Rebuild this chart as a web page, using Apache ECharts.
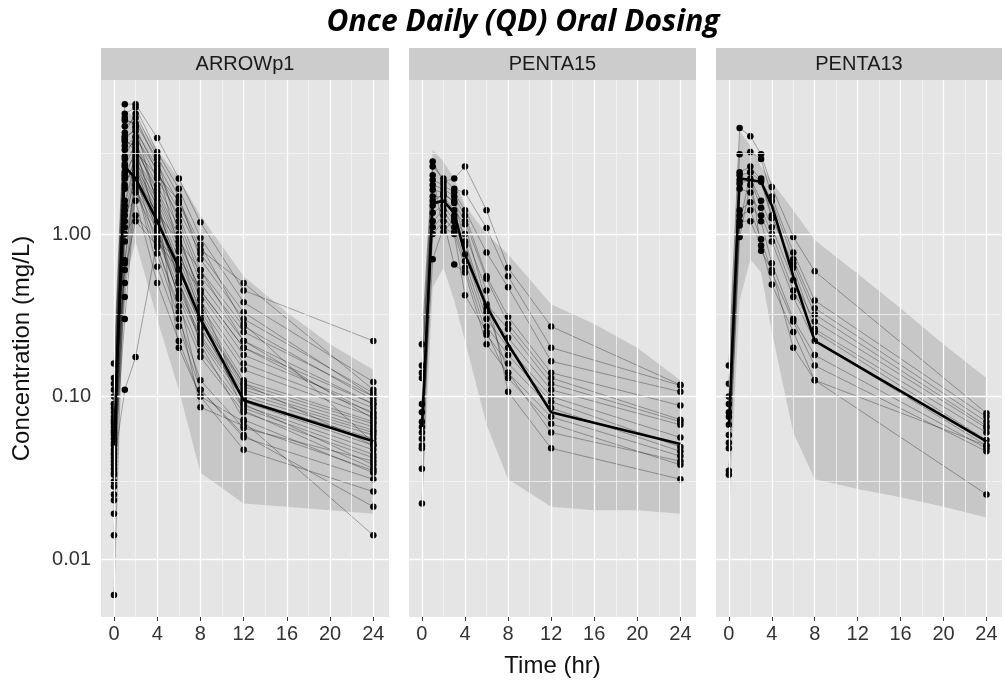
<!DOCTYPE html>
<html><head><meta charset="utf-8">
<script src="https://cdn.jsdelivr.net/npm/echarts@6/dist/echarts.min.js"></script>
<style>html,body{margin:0;padding:0;background:#fff}#c{width:1005px;height:688px}</style>
</head><body><div id="c"></div>
<script>
// ---------- data ----------
const panelNames = ['ARROWp1', 'PENTA15', 'PENTA13'];
const xTicks = [0, 4, 8, 12, 16, 20, 24];
const xMinor = [2, 6, 10, 14, 18, 22];
const yTicks = [0.01, 0.1, 1];
const yMinor = [0.0316, 0.316, 3.16];

// ARROWp1
const arrowTimes = [0, 1, 2, 4, 6, 8, 12, 24];
const arrowSubjects = [
  [0.16, 6.3, 6.3, 3.9, 2.2, 1.18, 0.45, 0.22],
  [0.13, 5.5, 6.0, 3.2, 1.9, 0.95, 0.38, 0.123],
  [0.12, 4.6, 5.2, 2.7, 1.55, 0.80, 0.50, 0.11],
  [0.09, 3.8, 4.5, 2.4, 1.4, 0.76, 0.33, 0.10],
  [0.085, 3.0, 4.0, 2.2, 1.3, 0.60, 0.27, 0.095],
  [0.08, 2.6, 3.6, 2.0, 1.1, 0.50, 0.22, 0.09],
  [0.07, 2.2, 3.3, 1.9, 0.96, 0.43, 0.18, 0.085],
  [0.065, 1.9, 3.0, 1.7, 0.85, 0.39, 0.16, 0.08],
  [0.06, 1.6, 2.8, 1.6, 0.78, 0.36, 0.146, 0.075],
  [0.058, 1.3, 2.6, 1.5, 0.70, 0.34, 0.126, 0.07],
  [0.055, 1.1, 2.5, 1.4, 0.65, 0.32, 0.12, 0.068],
  [0.05, 0.69, 2.4, 1.3, 0.60, 0.30, 0.115, 0.065],
  [0.047, 0.66, 2.2, 1.2, 0.55, 0.28, 0.11, 0.062],
  [0.045, 0.5, 2.1, 1.1, 0.50, 0.26, 0.105, 0.06],
  [0.042, 0.41, 1.9, 1.05, 0.45, 0.24, 0.10, 0.058],
  [0.04, 0.30, 1.8, 0.95, 0.42, 0.23, 0.096, 0.055],
  [0.038, 0.11, 0.175, 0.9, 0.7, 0.45, 0.2, 0.09],
  [0.036, 4.2, 5.5, 3.0, 1.7, 0.70, 0.3, 0.105],
  [0.034, 3.5, 3.9, 2.5, 1.2, 0.55, 0.25, 0.1],
  [0.03, 2.9, 3.4, 1.8, 0.9, 0.45, 0.2, 0.078],
  [0.028, 2.4, 3.1, 1.45, 0.62, 0.27, 0.093, 0.05],
  [0.025, 2.0, 2.9, 1.25, 0.52, 0.22, 0.088, 0.047],
  [0.019, 1.5, 2.7, 1.0, 0.41, 0.19, 0.085, 0.044],
  [0.014, 1.2, 2.3, 0.83, 0.36, 0.175, 0.08, 0.042],
  [0.006, 0.9, 2.0, 0.76, 0.30, 0.126, 0.064, 0.04],
  [0.1, 5.0, 4.8, 2.9, 1.0, 0.40, 0.09, 0.038],
  [0.075, 4.0, 4.3, 2.6, 0.8, 0.32, 0.082, 0.036],
  [0.068, 3.3, 3.7, 1.6, 0.5, 0.21, 0.072, 0.034],
  [0.052, 2.7, 2.0, 0.63, 0.27, 0.11, 0.056, 0.031],
  [0.044, 1.4, 1.6, 0.5, 0.22, 0.10, 0.047, 0.026],
  [0.033, 5.2, 4.6, 1.5, 0.2, 0.1, 0.07, 0.014],
  [0.023, 3.7, 3.5, 1.1, 0.4, 0.11, 0.058, 0.021],
  [0.062, 2.3, 2.2, 1.35, 0.9, 0.6, 0.22, 0.073],
  [0.11, 1.0, 1.3, 0.9, 0.6, 0.3, 0.12, 0.05],
  [0.09, 0.6, 1.2, 0.85, 0.33, 0.086, 0.066, 0.035],
  [0.072, 3.9, 3.2, 2.3, 1.6, 0.86, 0.28, 0.052]
];
const arrowMedian = [0.05, 2.6, 2.2, 1.2, 0.62, 0.30, 0.095, 0.053];
const arrowBandTimes = [0, 1, 2, 4, 6, 8, 12, 16, 20, 24];
const arrowBandLow = [0.015, 0.5, 0.9, 0.3, 0.11, 0.034, 0.022, 0.021, 0.02, 0.019];
const arrowBandHigh = [0.17, 5.8, 5.2, 3.3, 2.2, 1.3, 0.55, 0.33, 0.21, 0.146];

// PENTA15
const p15Times = [0, 1, 2, 3, 4, 6, 8, 12, 24];
const p15Subjects = [
  [0.21, 2.8, 2.1, 2.2, 2.6, 1.4, 0.62, 0.27, 0.118],
  [0.155, 2.6, 2.2, 1.9, 1.8, 1.09, 0.55, 0.2, 0.117],
  [0.14, 2.15, 2.0, 1.8, 1.4, 0.77, 0.47, 0.165, 0.107],
  [0.13, 2.0, 1.9, 1.7, 1.3, 0.55, 0.31, 0.14, 0.088],
  [0.09, 1.87, 1.8, 1.55, 1.2, 0.53, 0.28, 0.13, 0.072],
  [0.08, 1.7, 1.7, 1.4, 1.15, 0.37, 0.26, 0.12, 0.07],
  [0.07, 1.5, 1.6, 1.3, 0.85, 0.33, 0.23, 0.11, 0.067],
  [0.065, 1.35, 1.5, 1.2, 0.75, 0.3, 0.2, 0.1, 0.056],
  [0.06, 1.2, 1.4, 1.1, 0.68, 0.27, 0.18, 0.093, 0.049],
  [0.055, 1.1, 1.3, 1.03, 0.62, 0.24, 0.16, 0.085, 0.046],
  [0.05, 1.0, 1.2, 0.65, 0.58, 0.21, 0.14, 0.075, 0.043],
  [0.048, 0.7, 1.1, 1.0, 0.42, 0.25, 0.13, 0.068, 0.038],
  [0.036, 2.3, 1.03, 1.25, 1.0, 0.45, 0.107, 0.048, 0.031],
  [0.022, 1.6, 1.75, 1.6, 0.9, 0.35, 0.14, 0.06, 0.04]
];
const p15Median = [0.065, 1.55, 1.6, 1.35, 0.75, 0.36, 0.21, 0.08, 0.051];
const p15BandTimes = [0, 1, 2, 3, 4, 6, 8, 12, 16, 20, 24];
const p15BandLow = [0.019, 0.47, 0.62, 0.39, 0.22, 0.067, 0.031, 0.021, 0.02, 0.02, 0.019];
const p15BandHigh = [0.25, 3.3, 2.8, 2.2, 1.5, 1.0, 0.75, 0.37, 0.28, 0.2, 0.126];

// PENTA13
const p13Times = [0, 1, 2, 3, 4, 6, 8, 24];
const p13Subjects = [
  [0.155, 4.5, 4.0, 3.1, 1.95, 0.96, 0.59, 0.079],
  [0.12, 3.1, 3.2, 2.9, 1.7, 0.77, 0.39, 0.075],
  [0.1, 2.4, 2.6, 2.15, 1.6, 0.7, 0.35, 0.07],
  [0.09, 2.3, 2.4, 2.1, 1.25, 0.66, 0.32, 0.066],
  [0.08, 2.15, 2.2, 1.6, 1.1, 0.52, 0.29, 0.064],
  [0.075, 2.05, 2.15, 1.45, 1.0, 0.45, 0.25, 0.054],
  [0.067, 1.9, 1.8, 1.3, 0.9, 0.41, 0.22, 0.05],
  [0.058, 1.4, 1.57, 1.2, 0.66, 0.3, 0.18, 0.048],
  [0.052, 1.3, 1.4, 0.93, 0.58, 0.29, 0.155, 0.046],
  [0.048, 1.2, 1.2, 0.85, 0.49, 0.25, 0.126, 0.025],
  [0.035, 1.13, 2.4, 0.79, 0.6, 0.2, 0.126, 0.05],
  [0.033, 0.96, 2.0, 2.2, 1.3, 0.62, 0.26, 0.06]
];
const p13Median = [0.065, 2.2, 2.15, 2.1, 1.5, 0.55, 0.22, 0.053];
const p13BandTimes = [0, 1, 2, 3, 4, 6, 8, 12, 16, 20, 24];
const p13BandLow = [0.018, 0.39, 0.7, 0.58, 0.25, 0.06, 0.031, 0.027, 0.024, 0.021, 0.018];
const p13BandHigh = [0.2, 4.3, 3.5, 2.6, 2.1, 1.4, 0.92, 0.57, 0.35, 0.21, 0.13];

// ---------- chart ----------
const panels = [
  {times: arrowTimes, subjects: arrowSubjects, median: arrowMedian, bt: arrowBandTimes, lo: arrowBandLow, hi: arrowBandHigh},
  {times: p15Times, subjects: p15Subjects, median: p15Median, bt: p15BandTimes, lo: p15BandLow, hi: p15BandHigh},
  {times: p13Times, subjects: p13Subjects, median: p13Median, bt: p13BandTimes, lo: p13BandLow, hi: p13BandHigh}
];
const gridBoxes = [
  {left: 101, width: 288},
  {left: 409, width: 287},
  {left: 716, width: 286}
];
const TOP = 80, HEIGHT = 537;
const FONT = 'Liberation Sans, Arial, sans-serif';

const grids = [], xAxes = [], yAxes = [], series = [], graphics = [];
panels.forEach((p, i) => {
  grids.push({left: gridBoxes[i].left, width: gridBoxes[i].width, top: TOP, height: HEIGHT,
    show: true, backgroundColor: '#e5e5e5', borderWidth: 0, containLabel: false});
  xAxes.push({
    type: 'value', gridIndex: i, min: -1.2, max: 25.45,
    axisLine: {show: false},
    axisTick: {show: true, customValues: xTicks, length: 4, lineStyle: {color: '#333', width: 1}},
    axisLabel: {customValues: xTicks, fontSize: 20, color: '#333', margin: 7, fontFamily: FONT},
    splitLine: {show: false},
    name: i === 1 ? 'Time (hr)' : '', nameLocation: 'middle', nameGap: 37,
    nameTextStyle: {fontSize: 24, color: '#111', fontFamily: FONT}
  });
  yAxes.push({
    type: 'log', logBase: 10, gridIndex: i, min: 0.0044, max: 8.87,
    axisLine: {show: false},
    axisTick: {show: i === 0, customValues: yTicks, length: 4, lineStyle: {color: '#333', width: 1}},
    axisLabel: {show: i === 0, customValues: yTicks, fontSize: 20, color: '#333', margin: 10, fontFamily: FONT,
      formatter: v => Number(v).toFixed(2)},
    splitLine: {show: false},
    name: i === 0 ? 'Concentration (mg/L)' : '', nameLocation: 'middle', nameGap: 67,
    nameTextStyle: {fontSize: 24, color: '#111', fontFamily: FONT}
  });
  // grid lines
  const ml = [];
  xMinor.forEach(v => ml.push({xAxis: v, lineStyle: {color: '#f2f2f2', width: 0.8, type: 'solid'}}));
  yMinor.forEach(v => ml.push({yAxis: v, lineStyle: {color: '#f2f2f2', width: 0.8, type: 'solid'}}));
  xTicks.forEach(v => ml.push({xAxis: v, lineStyle: {color: '#ffffff', width: 1.3, type: 'solid'}}));
  yTicks.forEach(v => ml.push({yAxis: v, lineStyle: {color: '#ffffff', width: 1.3, type: 'solid'}}));
  series.push({
    type: 'line', xAxisIndex: i, yAxisIndex: i, data: [], z: 1, silent: true,
    markLine: {silent: true, symbol: ['none', 'none'], label: {show: false}, animation: false, data: ml}
  });
  // prediction band
  series.push({
    type: 'custom', xAxisIndex: i, yAxisIndex: i, z: 2, silent: true,
    data: p.bt.map((t, k) => [t, p.lo[k], p.hi[k]]),
    encode: {x: 0, y: [1, 2]},
    renderItem: (params, api) => {
      if (params.dataIndex !== 0) return null;
      const pts = [];
      for (let k = 0; k < p.bt.length; k++) pts.push(api.coord([p.bt[k], p.hi[k]]));
      for (let k = p.bt.length - 1; k >= 0; k--) pts.push(api.coord([p.bt[k], p.lo[k]]));
      return {type: 'polygon', shape: {points: pts}, style: {fill: 'rgba(0,0,0,0.13)'}};
    }
  });
  // individual profiles
  const allPts = [];
  p.subjects.forEach(s => {
    const d = [];
    p.times.forEach((t, k) => { if (s[k] != null) { d.push([t, s[k]]); allPts.push([t, s[k]]); } });
    series.push({type: 'line', xAxisIndex: i, yAxisIndex: i, data: d, z: 3, silent: true,
      symbol: 'none', lineStyle: {color: 'rgba(0,0,0,0.42)', width: 0.75}});
  });
  series.push({type: 'scatter', xAxisIndex: i, yAxisIndex: i, data: allPts, z: 4, silent: true,
    symbol: 'circle', symbolSize: 6.5, itemStyle: {color: '#000', opacity: 1}});
  series.push({type: 'line', xAxisIndex: i, yAxisIndex: i, z: 5, silent: true,
    data: p.times.map((t, k) => [t, p.median[k]]), symbol: 'none',
    lineStyle: {color: '#000', width: 2.6}});
  // strip
  graphics.push({type: 'rect', shape: {x: gridBoxes[i].left, y: 48, width: gridBoxes[i].width, height: 32},
    style: {fill: '#cccccc'}, silent: true});
  graphics.push({type: 'text', x: gridBoxes[i].left + gridBoxes[i].width / 2, y: 64,
    style: {text: panelNames[i], fontSize: 20, fontFamily: FONT, fill: '#1a1a1a', align: 'center', verticalAlign: 'middle'}});
});
graphics.push({type: 'text', x: 523, y: 22,
  style: {text: 'Once Daily (QD) Oral Dosing', fontSize: 30, fontWeight: 'bold', fontStyle: 'italic',
    fontFamily: 'Open Sans, Lato, sans-serif', fill: '#000', align: 'center', verticalAlign: 'middle'}});

const chart = echarts.init(document.getElementById('c'), null, {renderer: 'canvas'});
chart.setOption({
  animation: false,
  backgroundColor: '#ffffff',
  grid: grids, xAxis: xAxes, yAxis: yAxes, series: series, graphic: graphics
});
</script></body></html>
